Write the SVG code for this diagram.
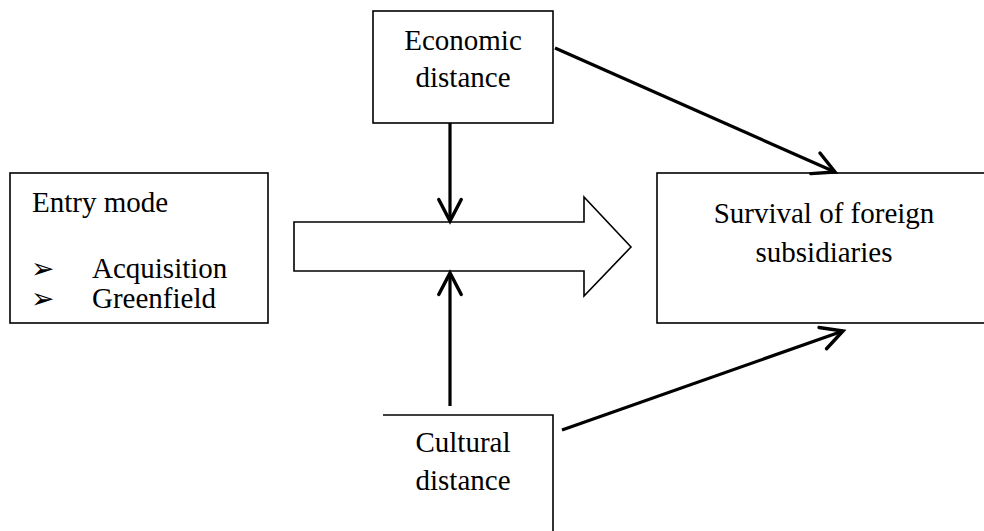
<svg xmlns="http://www.w3.org/2000/svg" width="984" height="531" viewBox="0 0 984 531">
<style>
.box{fill:#fff;stroke:#000;stroke-width:1.6}
.t{font-family:"Liberation Serif","Times New Roman",serif;font-size:29px;fill:#000}
.c{text-anchor:middle}
.bul{font-family:"DejaVu Sans",sans-serif;font-size:28px;fill:#000}
.con{stroke:#000;stroke-width:3.2;fill:none;marker-end:url(#ah)}
</style>
<defs>
<marker id="ah" markerUnits="userSpaceOnUse" markerWidth="30" markerHeight="30" viewBox="-24 -13 28 26" refX="0" refY="0" orient="auto">
<path d="M-20,-10.5 L0,0 L-20,10.5" fill="none" stroke="#000" stroke-width="3.2" stroke-linecap="round" stroke-linejoin="miter"/>
</marker>
</defs>
<rect width="984" height="531" fill="#fff"/>
<g id="entry-mode">
<rect class="box" x="10" y="173" width="258" height="150"/>
<text class="t" x="32" y="212">Entry mode</text>
<text class="bul" x="31" y="278">➢</text>
<text class="t" x="92" y="278">Acquisition</text>
<text class="bul" x="31" y="308">➢</text>
<text class="t" x="92" y="308">Greenfield</text>
</g>
<g id="economic-distance">
<rect class="box" x="373" y="11" width="180" height="112"/>
<text class="t c" x="463" y="50">Economic</text>
<text class="t c" x="463" y="87">distance</text>
</g>
<g id="cultural-distance">
<path d="M383,415 H553 V533" fill="#fff" stroke="#000" stroke-width="1.6"/>
<text class="t c" x="463" y="452">Cultural</text>
<text class="t c" x="463" y="490">distance</text>
</g>
<g id="survival">
<rect class="box" x="657" y="173" width="340" height="150"/>
<text class="t c" x="824" y="223">Survival of foreign</text>
<text class="t c" x="824" y="262">subsidiaries</text>
</g>
<g id="block-arrow">
<path d="M294,222 H584 V197 L631,247 L584,296 V271 H294 Z" fill="#fff" stroke="#000" stroke-width="1.6" stroke-linejoin="miter"/>
</g>
<g id="connectors">
<line class="con" x1="450" y1="123" x2="450" y2="221"/>
<line class="con" x1="450" y1="406" x2="450" y2="273"/>
<line class="con" x1="555" y1="48" x2="835" y2="172"/>
<line class="con" x1="562" y1="430" x2="843" y2="331"/>
</g>
</svg>
